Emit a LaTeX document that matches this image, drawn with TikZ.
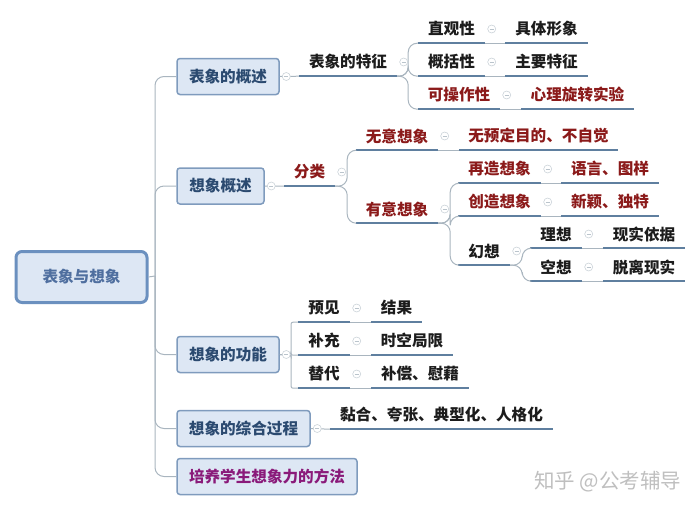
\documentclass[tikz,border=0pt]{standalone}
\usepackage{fontspec}
\setmainfont{Noto Sans CJK SC}
\definecolor{boxfill}{HTML}{DDE7F4}
\definecolor{boxline}{HTML}{7F9BBD}
\definecolor{boxtext}{HTML}{2B4A70}
\definecolor{roottext}{HTML}{4F6F9F}
\definecolor{rootline}{HTML}{6B90BF}
\definecolor{stem}{HTML}{A9B5BF}
\definecolor{rule}{HTML}{5F7F9F}
\definecolor{redtext}{HTML}{8B1A1A}
\definecolor{blacktext}{HTML}{1C1C1C}
\definecolor{purpletext}{HTML}{8A1A7A}
\tikzset{
	box/.style={draw=boxline,fill=boxfill,line width=1.5pt,rounded corners=3pt,inner sep=0pt,
		minimum height=36pt,font=\fontsize{15.6}{16}\selectfont\bfseries,text=boxtext},
	topic/.style={inner sep=0pt,minimum height=28pt,font=\fontsize{15.6}{16}\selectfont\bfseries},
	underline/.style={rule,line width=2pt},
	branch/.style={stem,line width=1pt,rounded corners=9pt},
	fold/.style={circle,draw=stem!60,fill=white,line width=.6pt,minimum size=8pt,inner sep=0pt,
		path picture={\draw[stem!80,line width=.6pt] ([xshift=-2pt]path picture bounding box.center)--([xshift=2pt]path picture bounding box.center);}}
}
\begin{document}
\begin{tikzpicture}[x=1pt,y=-1pt]
	\useasboundingbox (0,0) rectangle (700,509);
	\node[box,draw=rootline,line width=3pt,rounded corners=6pt,minimum width=131pt,minimum height=51pt,text=roottext] (root) at (81.5,277) {表象与想象};
	\coordinate (hub) at (155,276);
	\foreach \name/\xl/\xr/\y/\txt/\col in {
		bx/177/279/76.5/表象的概述/boxtext,
		xg/177/264/186/想象概述/boxtext,
		gn/177/279/354.5/想象的功能/boxtext,
		zh/177/310/428.5/想象的综合过程/boxtext,
		py/177/357/476.5/培养学生想象力的方法/purpletext}{
		\node[box,minimum width=\xr pt-\xl pt,text=\col] (\name) at ({(\xl+\xr)/2},\y) {\txt};
		\draw[branch] (hub) |- (\name.west);
	}
	\draw[branch] (root.east)--(hub);
	\foreach \name/\xl/\xr/\y/\txt/\col in {
		tz/299/397/76/表象的特征/blacktext,
		zg/418/485/43/直观性/blacktext,
		xx/505/588/43/具体形象/blacktext,
		gk/418/485/76/概括性/blacktext,
		zy/505/588/76/主要特征/blacktext,
		kc/418/500/109/可操作性/redtext,
		xl/521/634/109/心理旋转实验/redtext,
		fl/284/335/186/分类/redtext,
		wy/356/438/150/无意想象/redtext,
		wd/459/618/150/无预定目的、不自觉/redtext,
		yy/356/438/223/有意想象/redtext,
		zc/458/541/183/再造想象/redtext,
		yt/561/659/183/语言、图样/redtext,
		cz/458/541/216/创造想象/redtext,
		xd/561/659/216/新颖、独特/redtext,
		hx/458/510/265/幻想/blacktext,
		lx/530/582/248/理想/blacktext,
		xs/603/685/248/现实依据/blacktext,
		kx/530/582/281/空想/blacktext,
		tl/603/685/281/脱离现实/blacktext,
		yj/298/350/322/预见/blacktext,
		jg/371/422/322/结果/blacktext,
		bc/298/350/355/补充/blacktext,
		sk/371/453/355/时空局限/blacktext,
		td/298/350/388/替代/blacktext,
		bw/371/469/388/补偿、慰藉/blacktext,
		nh/330/553/429/黏合、夸张、典型化、人格化/blacktext}{
		\node[topic,minimum width=\xr pt-\xl pt,text=\col] (\name) at ({(\xl+\xr)/2},\y-14) {\txt};
		\draw[underline] (\name.south west)--(\name.south east);
	}
	% straight links
	\foreach \a/\b in {zg/xx,gk/zy,kc/xl,wy/wd,zc/yt,cz/xd,lx/xs,kx/tl,yj/jg,bc/sk,td/bw}{
		\draw[branch] (\a.south east)--(\b.south west);
	}
	\draw[branch] (bx.east)--(tz.south west);
	\draw[branch] (xg.east)--(fl.south west);
	\draw[branch] (zh.east)--(nh.south west);
	% curved brackets
	\foreach \a/\b/\w in {tz/zg/11,tz/gk/11,tz/kc/11,fl/wy/12,fl/yy/12,yy/zc/12,yy/cz/12,yy/hx/12,hx/lx/12,hx/kx/12}{
		\draw[branch] (\a.south east)--++(\w,0) |- (\b.south west);
	}
	\foreach \b in {yj,bc,td}{
		\draw[branch,rounded corners=2pt] (gn.east)--(291,354.5) |- (\b.south west);
	}
	% fold marks
	\foreach \a in {bx,xg,gn,zh}{
		\node[fold] (f\a) at ([xshift=6.5pt]\a.east) {};
	}
	\foreach \a in {tz,zg,gk,kc,fl,wy,yy,zc,cz,hx,lx,kx,yj,bc,td}{
		\node[fold] (f\a) at ([xshift=6.5pt]\a.east) {};
	}
	\node[text=black!25,font=\fontsize{20.5}{21}\selectfont] (mark) at (607.5,482) {知乎 @公考辅导};
\end{tikzpicture}
\end{document}
